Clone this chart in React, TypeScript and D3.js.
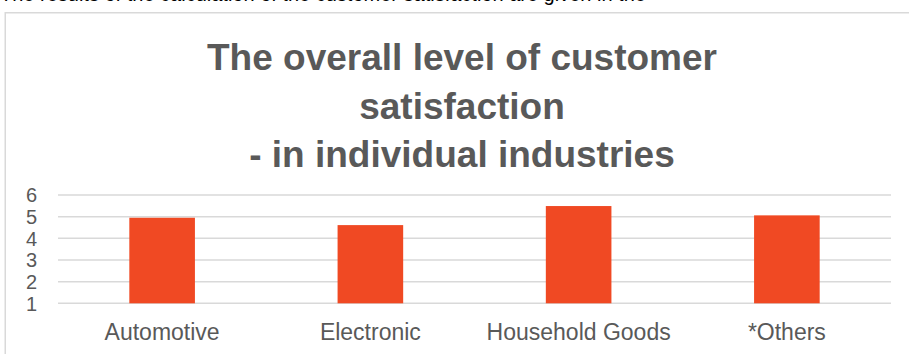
import React from "react";
import * as d3 from "d3";

const categories = ["Automotive", "Electronic", "Household Goods", "*Others"];
const values = [4.95, 4.61, 5.49, 5.06];
const yTicks = [1, 2, 3, 4, 5, 6];
const titleLines = ["The overall level of customer", "satisfaction", "- in individual industries"];
const clippedText = "The results of the calculation of the customer satisfaction are given in the";

export default function App() {
  const W = 909;
  const H = 354;
  const plotLeft = 58;
  const plotRight = 891;
  const x = d3.scaleBand<string>().domain(categories).range([plotLeft, plotRight]).padding(0);
  const y = d3.scaleLinear().domain([1, 6]).range([303.3, 195]);
  const barW = x.bandwidth() * 0.315;
  const textColor = "#595959";
  const font = "'Liberation Sans', Arial, sans-serif";

  return (
    <svg width={W} height={H} style={{ position: "absolute", left: 0, top: 0, background: "#fff" }} fontFamily={font}>
      <rect x={0} y={0} width={W} height={H} fill="#fff" />
      <text x={0} y={0.5} fontSize={20} fill="#000">{clippedText}</text>
      <rect x={5.25} y={12.75} width={1000} height={1000} fill="#fff" stroke="#D9D9D9" strokeWidth={1.5} />
      {titleLines.map((t, i) => (
        <text key={i} x={462} y={70 + i * 48.5} textAnchor="middle" fontSize={37} fontWeight="bold" fill={textColor}>{t}</text>
      ))}
      {yTicks.map((t) => (
        <line key={"g" + t} x1={plotLeft} x2={plotRight} y1={y(t)} y2={y(t)} stroke="#D9D9D9" strokeWidth={1.5} />
      ))}
      {yTicks.map((t) => (
        <text key={"l" + t} x={37} y={y(t)} dy="0.36em" textAnchor="end" fontSize={20} fill={textColor}>{t}</text>
      ))}
      {categories.map((c, i) => (
        <rect key={c} x={(x(c) as number) + x.bandwidth() / 2 - barW / 2} y={y(values[i])} width={barW} height={y(1) - y(values[i])} fill="#F04923" />
      ))}
      {categories.map((c) => (
        <text key={"x" + c} x={(x(c) as number) + x.bandwidth() / 2} y={340} textAnchor="middle" fontSize={23} fill={textColor}>{c}</text>
      ))}
    </svg>
  );
}
